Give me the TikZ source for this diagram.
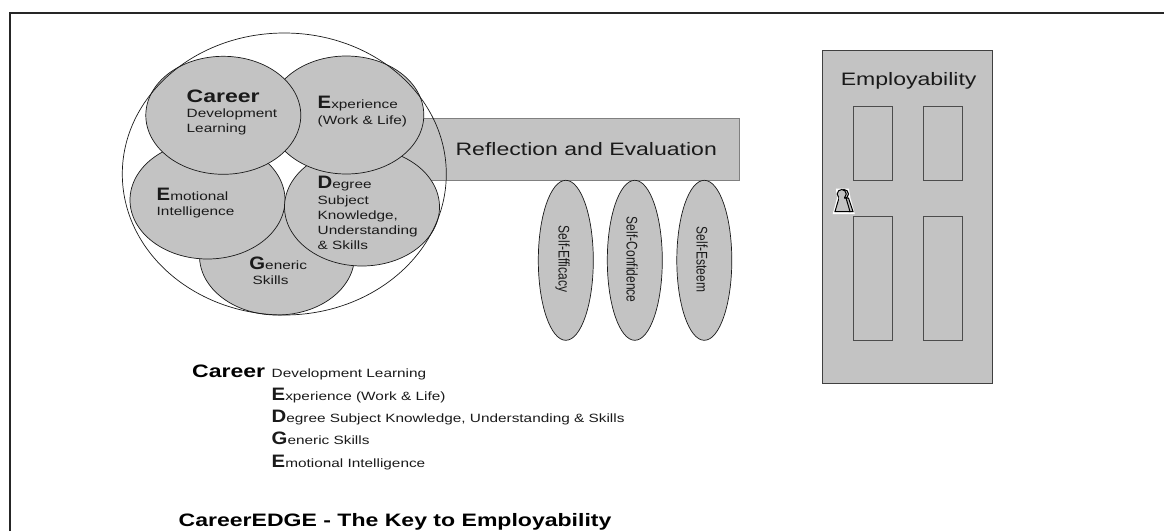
\documentclass[tikz,border=0pt]{standalone}
\usepackage{fontspec}
\usetikzlibrary{shapes.geometric}
\setmainfont[FakeStretch=1.28]{Liberation Sans}
\newfontfamily\sidefont[FakeStretch=0.78]{Liberation Sans}
\newfontfamily\initfont[FakeStretch=1.13]{Liberation Sans}
\newcommand{\initial}[1]{{\initfont\fontsize{18}{18}\selectfont\bfseries #1}}
\definecolor{doorgray}{HTML}{C3C3C3}
\definecolor{inkgray}{HTML}{1A1A1A}
\tikzset{
    petal/.style={draw=inkgray, fill=doorgray, ellipse, line width=0.7pt, inner sep=0pt, minimum width=155pt, minimum height=118pt},
    pillar/.style={draw=inkgray, fill=doorgray, ellipse, line width=0.7pt, inner sep=0pt, minimum width=55pt, minimum height=160pt},
    pane/.style={draw=black!70, rectangle, line width=0.9pt, inner sep=0pt, minimum width=39pt},
    petaltext/.style={anchor=north west, inner sep=0pt, align=left, text=inkgray, font=\fontsize{12}{15.2}\selectfont},
    sidetext/.style={rotate=-90, inner sep=0pt, text=inkgray, font=\sidefont\fontsize{15.4}{16}\selectfont},
    bigtext/.style={anchor=base west, inner sep=0pt, text=inkgray, font=\fontsize{18}{20}\selectfont},
    boldtext/.style={anchor=base west, inner sep=0pt, text=black, font=\fontsize{18}{20}\selectfont\bfseries},
    keyline/.style={draw=black, line width=1pt, fill=doorgray}
}
\begin{document}
\begin{tikzpicture}[x=1pt, y=-1pt]
    \useasboundingbox (0,0) rectangle (1164,531);

    % Frame
    \draw[line width=2pt, black!85] (10,531) -- (10,13) -- (1164,13);

    % Bar and door
    \node at (570,149) (bar) [draw=black!50, fill=doorgray, rectangle, line width=1pt, inner sep=0pt, minimum width=339pt, minimum height=62pt] {};
    \node at (907.8,216.7) (door) [draw=black!75, fill=doorgray, rectangle, line width=1pt, inner sep=0pt, minimum width=170pt, minimum height=333pt] {};
    \node at (873.3,143) (paneA) [pane, minimum height=74pt] {};
    \node at (943,143) (paneB) [pane, minimum height=74pt] {};
    \node at (873.3,278.7) (paneC) [pane, minimum height=124pt] {};
    \node at (943,278.7) (paneD) [pane, minimum height=124pt] {};

    % Keyhole
    \draw[white, line width=2pt] (838,198) -- (834,213) -- (853.5,213) -- (849.5,198) -- (848,189.5) -- (837,189.5) -- cycle;
    \draw[keyline] (846,198) -- (848.5,198) -- (853,211.5) -- (849,211.5) -- cycle;
    \draw[keyline] (844,194) circle (4.5);
    \draw[keyline] (839,198) -- (835,211.5) -- (850,211.5) -- (846,198) -- cycle;
    \draw[keyline] (841.7,194) circle (4.5);
    \fill[doorgray] (839.3,196.5) rectangle (844.1,199.5);

    % Ellipses
    \node at (277,256) (generic) [petal] {};
    \node at (207.5,200) (emotional) [petal] {};
    \node at (362,207) (degree) [petal] {};
    \node at (346.3,115) (experience) [petal] {};
    \node at (223.3,115.3) (career) [petal] {};
    \node at (284.3,174) (ring) [draw=inkgray, ellipse, line width=0.7pt, inner sep=0pt, minimum width=324pt, minimum height=282pt] {};
    \node at (565.8,260.3) (efficacy) [pillar] {};
    \node at (634.8,260.3) (confidence) [pillar] {};
    \node at (704.3,260.3) (esteem) [pillar] {};

    % Ellipse labels
    \node at (186.5,89.6) (careerText) [petaltext] {{\fontsize{18}{18}\selectfont\bfseries Career}\\Development\\Learning};
    \node at (317.5,96.4) (experienceText) [petaltext] {\initial{E}xperience\\(Work \& Life)};
    \node at (156.5,188.1) (emotionalText) [petaltext] {\initial{E}motional\\Intelligence};
    \node at (317.5,176.4) (degreeText) [petaltext] {\initial{D}egree\\Subject\\Knowledge,\\Understanding\\\& Skills};
    \node at (249.2,256.4) (genericText) [petaltext] {\initial{G}eneric\\\hspace*{3.3pt}Skills};
    \node at (562.7,259) (efficacyText) [sidetext] {Self-Efficacy};
    \node at (632,259.7) (confidenceText) [sidetext] {Self-Confidence};
    \node at (702,259.5) (esteemText) [sidetext] {Self-Esteem};

    % Bar and door labels
    \node at (455.4,155.7) (barText) [bigtext] {Reflection and Evaluation};
    \node at (840.6,85) (doorText) [bigtext] {Employability};

    % Legend
    \node at (192,377.3) (legendHead) [boldtext] {Career};
    \node at (271.5,368.7) (legendText) [petaltext, font=\fontsize{12}{22.4}\selectfont] {Development Learning\\\initial{E}xperience (Work \& Life)\\\initial{D}egree Subject Knowledge, Understanding \& Skills\\\initial{G}eneric Skills\\\initial{E}motional Intelligence};
    \node at (178.5,526.7) (title) [boldtext] {CareerEDGE - The Key to Employability};

\end{tikzpicture}
\end{document}
